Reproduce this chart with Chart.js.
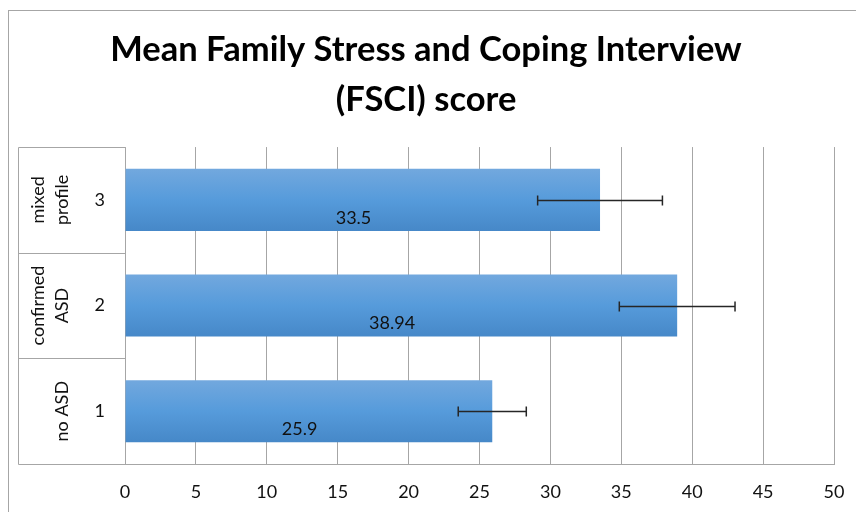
<!DOCTYPE html>
<html><head><meta charset="utf-8">
<script src="https://cdn.jsdelivr.net/npm/chart.js@4/dist/chart.umd.min.js"></script>
<style>html,body{margin:0;padding:0;background:#fff;}#wrap{width:856px;height:512px;}</style>
</head><body><div id="wrap"><canvas id="c" width="856" height="512"></canvas></div>
<script>
const titleLines = ["Mean Family Stress and Coping Interview", "(FSCI) score"];
const categories = ["1", "2", "3"];
const groups = [["no ASD"], ["confirmed", "ASD"], ["mixed", "profile"]];
const scores = [25.9, 38.94, 33.5];
const errors = [2.4, 4.08, 4.4];
const xMin = 0, xMax = 50, xStep = 5;

const FONT = "Lato, 'Liberation Sans', sans-serif";

const framePlugin = {
  id: 'frame',
  beforeDraw(chart) {
    const ctx = chart.ctx;
    ctx.save();
    ctx.fillStyle = '#fff';
    ctx.fillRect(0, 0, chart.width, chart.height);
    ctx.strokeStyle = '#a6a6a6';
    ctx.lineWidth = 1;
    ctx.strokeRect(8.5, 10.5, chart.width + 20, chart.height + 20);
    ctx.restore();
  }
};

const gradientPlugin = {
  id: 'barGradient',
  beforeDatasetsDraw(chart) {
    const ctx = chart.ctx;
    chart.getDatasetMeta(0).data.forEach(el => {
      const top = el.y - el.height / 2, bot = el.y + el.height / 2;
      const g = ctx.createLinearGradient(0, top, 0, bot);
      g.addColorStop(0, '#72a8de');
      g.addColorStop(0.5, '#569bdb');
      g.addColorStop(1, '#4688c8');
      el.options = Object.assign(Object.create(Object.getPrototypeOf(el.options)), el.options, { backgroundColor: g });
    });
  }
};

const extrasPlugin = {
  id: 'extras',
  afterDatasetsDraw(chart) {
    const ctx = chart.ctx;
    const xs = chart.scales.x;
    const meta = chart.getDatasetMeta(0);
    ctx.save();
    ctx.fillStyle = '#111';
    ctx.font = "18px " + FONT;
    ctx.textAlign = 'center';
    ctx.textBaseline = 'middle';
    meta.data.forEach((el, i) => {
      ctx.fillText(String(scores[i]), xs.getPixelForValue(scores[i] / 2) - 9, el.y + 18);
    });
    ctx.strokeStyle = '#262626';
    ctx.lineWidth = 1.5;
    meta.data.forEach((el, i) => {
      const y = Math.round(el.y) + 0.5;
      const x1 = xs.getPixelForValue(scores[i] - errors[i]);
      const x2 = xs.getPixelForValue(scores[i] + errors[i]);
      ctx.beginPath();
      ctx.moveTo(x1, y); ctx.lineTo(x2, y);
      ctx.moveTo(x1, y - 5); ctx.lineTo(x1, y + 5);
      ctx.moveTo(x2, y - 5); ctx.lineTo(x2, y + 5);
      ctx.stroke();
    });
    ctx.restore();
  },
  afterDraw(chart) {
    const ctx = chart.ctx;
    const ys = chart.scales.y;
    const area = chart.chartArea;
    const n = categories.length;
    const band = (ys.bottom - ys.top) / n;
    const boxLeft = 18.5;
    ctx.save();
    ctx.strokeStyle = '#a6a6a6';
    ctx.lineWidth = 1;
    ctx.beginPath();
    for (let k = 0; k <= n; k++) {
      const y = Math.round(ys.top + k * band) + 0.5;
      ctx.moveTo(boxLeft, y); ctx.lineTo(area.left, y);
    }
    ctx.moveTo(boxLeft, Math.round(ys.top) + 0.5);
    ctx.lineTo(boxLeft, Math.round(ys.bottom) + 0.5);
    ctx.stroke();
    ctx.fillStyle = '#111';
    ctx.font = "18px " + FONT;
    ctx.textAlign = 'center';
    ctx.textBaseline = 'middle';
    categories.forEach((c, i) => {
      const yc = ys.getPixelForValue(i);
      const lines = groups[i];
      lines.forEach((ln, j) => {
        const x = 62 - (lines.length - 1 - j) * 24;
        ctx.save();
        ctx.translate(x, yc);
        ctx.rotate(-Math.PI / 2);
        ctx.fillText(ln, 0, 0);
        ctx.restore();
      });
    });
    ctx.restore();
  }
};

new Chart(document.getElementById('c'), {
  type: 'bar',
  data: {
    labels: categories,
    datasets: [{
      data: scores,
      backgroundColor: '#569bdb',
      borderWidth: 0,
      barPercentage: 0.587,
      categoryPercentage: 1
    }]
  },
  options: {
    indexAxis: 'y',
    responsive: false,
    animation: false,
    devicePixelRatio: 1,
    layout: { padding: { left: 18, right: 22, top: 0, bottom: 0 } },
    plugins: {
      legend: { display: false },
      tooltip: { enabled: false },
      title: {
        display: true,
        text: titleLines,
        color: '#000',
        font: { family: FONT, size: 34.5, weight: 'bold', lineHeight: 1.45 },
        padding: { top: 25, bottom: 22 }
      }
    },
    scales: {
      x: {
        type: 'linear',
        min: xMin, max: xMax,
        ticks: { stepSize: xStep, color: '#111', font: { family: FONT, size: 18 }, padding: 0 },
        grid: { color: '#a6a6a6', lineWidth: 1, drawTicks: true, tickLength: 17, tickColor: 'rgba(0,0,0,0)' },
        border: { color: '#a6a6a6' },
        afterFit: s => { s.height = 48; }
      },
      y: {
        type: 'category',
        reverse: true,
        ticks: { color: '#111', font: { family: FONT, size: 18 }, padding: 20 },
        grid: { display: false, drawTicks: false },
        border: { display: false },
        afterFit: s => { s.width = 107; }
      }
    }
  },
  plugins: [framePlugin, gradientPlugin, extrasPlugin]
});
</script></body></html>
